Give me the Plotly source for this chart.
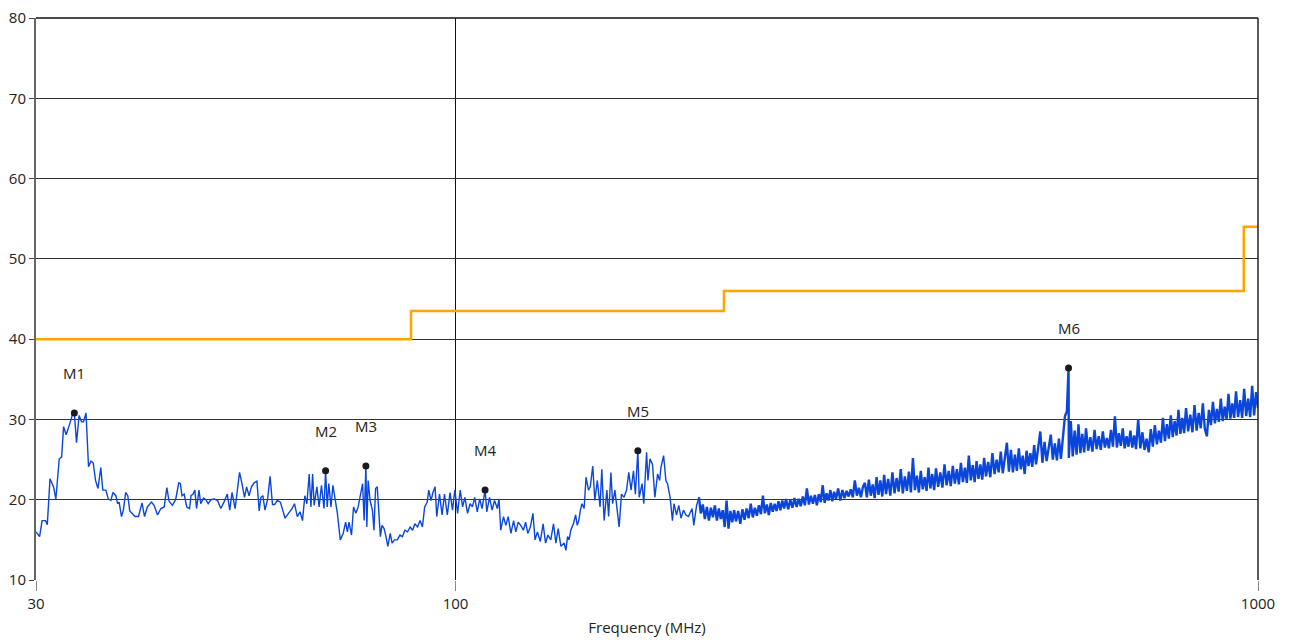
import numpy as np
import plotly.graph_objects as go

freq_a = [
    30.00, 30.31, 30.53, 30.83, 30.99, 31.23, 31.55, 31.76, 32.07, 32.29,
    32.47, 32.71, 32.99, 33.31, 33.49, 33.70, 33.95, 34.19, 34.38, 34.63,
    34.88, 35.13, 35.35, 35.59, 35.84, 36.13, 36.34, 36.66, 36.91, 37.19,
    37.41, 37.73, 37.91, 38.08, 38.34, 38.55, 38.80, 39.04, 39.26, 39.62,
    39.86, 40.25, 40.67, 40.96, 41.29, 41.78, 42.10, 42.52, 42.93, 43.34,
    43.67, 43.95, 44.37, 44.78, 45.19, 45.40, 45.61, 45.89, 46.24, 46.61,
    46.81, 47.09, 47.32, 47.56, 47.89, 48.13, 48.52, 48.85, 49.17, 49.56,
    50.03, 50.51, 50.98, 51.45, 51.94, 52.31, 52.65, 53.12, 53.47, 53.80,
    54.20, 54.57, 54.90, 55.28, 55.68, 56.10, 56.55, 56.92, 57.20, 57.53,
    57.87, 58.30, 58.73, 59.13, 59.50, 59.94, 60.49,
]
level_a = [
    16.0, 15.4, 17.4, 17.4, 16.9, 22.6, 21.6, 20.1, 25.1, 25.3,
    29.1, 28.1, 29.2, 30.6, 30.8, 27.1, 30.5, 29.7, 29.7, 30.8,
    24.1, 24.8, 24.6, 22.4, 21.4, 24.0, 21.2, 21.2, 20.1, 19.9,
    20.9, 20.5, 19.5, 19.7, 17.9, 18.7, 20.9, 20.5, 18.6, 18.2,
    17.9, 17.9, 19.6, 17.9, 19.1, 19.7, 19.3, 18.1, 18.9, 19.1,
    21.5, 19.8, 19.3, 20.0, 22.1, 22.0, 20.5, 20.7, 19.1, 18.9,
    20.5, 20.7, 21.2, 18.9, 21.2, 19.5, 20.2, 20.0, 19.5, 20.0,
    20.1, 19.9, 18.9, 19.7, 20.7, 18.7, 20.9, 18.9, 20.9, 23.4,
    21.9, 20.3, 21.6, 20.5, 21.6, 22.1, 22.3, 18.6, 20.3, 20.5,
    18.7, 20.0, 22.9, 19.4, 19.4, 19.9, 19.7,
]

freq_b = [
    61.31, 61.91, 62.55, 62.99, 63.50, 64.00, 64.45, 64.89, 65.27, 65.70,
    66.03, 66.35, 66.65, 67.17, 67.60, 68.06, 68.55, 68.87, 69.19, 69.50,
    69.95, 70.33, 70.77, 71.24, 71.83, 72.43, 72.94, 73.31, 73.66, 74.18,
    74.62, 75.12, 75.62, 76.06, 76.58, 76.93, 77.31, 77.52, 77.81, 78.25,
    78.77, 79.12, 79.49, 79.87, 80.22, 80.59, 80.96, 81.46, 81.90, 82.33,
    82.91, 83.34, 83.92, 84.60, 85.26, 85.87, 86.45, 87.13, 87.79, 88.40,
    88.98, 89.66, 90.32, 90.93, 91.51, 92.19, 92.59, 93.20, 93.71, 94.29,
    94.74, 95.50, 96.20, 96.87, 97.66, 98.42, 99.12, 99.79, 100.58, 101.34,
    102.04, 102.71, 103.50, 104.26, 104.96, 105.63, 106.42, 107.18, 107.88, 108.84,
    109.37, 110.24, 111.05, 111.82, 112.73, 113.27, 113.84, 114.75, 115.52, 116.30,
    117.21, 118.12, 118.89, 119.67, 120.57, 121.48, 122.26, 123.03, 123.94, 124.85,
    125.62, 126.47, 127.52, 128.56, 129.46, 130.35, 131.40, 132.45, 133.35, 134.24,
    135.29,
]
level_b = [
    17.7, 18.3, 18.9, 19.5, 17.9, 18.5, 17.4, 20.5, 19.5, 23.2,
    19.1, 23.2, 19.3, 21.6, 19.1, 21.8, 18.9, 23.6, 19.1, 22.0,
    19.1, 21.8, 19.9, 18.3, 15.0, 15.8, 17.2, 16.0, 17.2, 15.6,
    19.1, 18.3, 19.1, 20.3, 22.0, 17.4, 24.2, 16.6, 22.4, 19.9,
    18.7, 16.2, 21.4, 21.6, 17.7, 15.4, 16.8, 16.4, 15.4, 14.2,
    15.8, 14.6, 15.0, 15.0, 15.6, 15.4, 16.2, 16.0, 16.6, 16.2,
    17.0, 16.6, 17.4, 16.6, 19.1, 19.7, 21.2, 19.9, 20.9, 21.6,
    17.9, 20.7, 18.1, 20.7, 18.1, 20.9, 18.7, 21.2, 18.3, 21.2,
    19.1, 20.3, 18.3, 19.5, 19.1, 20.3, 18.5, 20.1, 18.9, 21.2,
    18.5, 20.3, 18.7, 19.9, 18.9, 20.1, 16.2, 17.9, 16.8, 17.9,
    15.8, 17.4, 16.0, 17.2, 16.8, 16.2, 17.2, 15.8, 16.6, 18.3,
    15.0, 16.0, 14.8, 17.0, 14.6, 15.6, 15.0, 17.0, 14.6, 16.4,
    14.2,
]

freq_c = [
    136.57, 137.23, 137.89, 138.51, 139.18, 140.23, 141.12, 141.78, 142.41, 143.07,
    143.73, 144.62, 145.40, 146.43, 147.19, 148.23, 149.12, 150.20, 151.37, 152.13,
    153.16, 154.37, 155.14, 156.17, 156.93, 157.96, 158.86, 159.89, 160.97, 162.14,
    163.34, 164.38, 165.46, 166.62, 167.52, 168.19, 168.71, 169.38, 170.78, 171.61,
    173.01, 173.68, 174.72, 175.96, 177.15, 178.55, 179.59, 180.26, 181.66, 182.85,
    183.73, 185.08, 186.32, 187.15, 188.54, 189.74, 190.98, 192.32, 193.72, 195.10,
    197.13, 198.08, 199.70, 201.07,
]
level_c = [
    14.6, 13.7, 15.4, 15.0, 16.2, 17.0, 18.1, 16.8, 17.4, 18.7,
    19.5, 18.9, 22.8, 21.2, 21.6, 24.2, 19.9, 22.4, 19.1, 23.8,
    17.4, 21.2, 17.9, 23.4, 19.5, 21.2, 18.7, 16.6, 20.7, 20.3,
    21.2, 23.4, 21.2, 23.6, 20.7, 23.2, 26.1, 20.3, 22.0, 19.5,
    25.9, 22.4, 25.1, 24.4, 20.3, 23.2, 22.4, 24.0, 25.5, 22.4,
    22.0, 20.3, 17.4, 19.5, 18.1, 19.3, 17.7, 18.7, 18.1, 17.9,
    18.9, 16.8, 19.3, 20.3,
]

freq_d = [
    202.09, 203.29, 204.48, 205.68, 206.87, 208.07, 209.26, 210.46, 211.65, 212.85,
    214.04, 215.24, 216.44, 217.63, 218.83, 220.02, 221.22, 222.41, 223.61, 224.99,
    226.37, 227.75, 229.13, 230.51, 231.89, 233.27, 234.65, 236.03, 237.41, 238.79,
    240.17, 241.55, 242.93, 244.31, 245.69, 247.07, 248.45, 249.83, 251.21, 252.59,
    253.97, 255.35, 256.73, 258.11, 259.70, 261.30, 262.89, 264.48, 266.07, 267.67,
    269.26, 270.85, 272.45, 274.04, 275.63, 277.22, 278.82, 280.41, 282.00, 283.60,
    285.19, 286.78, 288.37, 289.97, 291.56, 293.15, 294.75, 296.34, 297.93, 299.77,
    301.61, 303.45, 305.29, 307.12, 308.96, 310.80, 312.64, 314.48, 316.32, 318.16,
    320.00, 321.84,
]
level_d = [
    18.3, 19.4, 17.6, 19.1, 17.4, 19.0, 17.8, 19.3, 17.4, 18.9,
    17.6, 18.7, 16.6, 19.9, 16.4, 18.6, 17.2, 18.7, 17.3, 18.6,
    17.0, 18.8, 17.5, 18.9, 17.7, 19.5, 17.8, 19.0, 18.0, 19.3,
    18.2, 20.5, 18.3, 19.4, 18.1, 19.6, 18.5, 19.5, 18.6, 19.8,
    18.7, 19.9, 18.9, 20.1, 18.8, 20.0, 19.0, 20.2, 19.1, 20.1,
    19.2, 20.4, 19.3, 21.4, 19.4, 20.5, 19.5, 20.6, 19.3, 20.7,
    19.7, 21.8, 19.6, 20.8, 19.9, 21.2, 19.8, 21.0, 20.1, 21.4,
    19.9, 21.2, 20.2, 21.1, 20.4, 21.3, 20.3, 22.4, 20.5, 21.5,
    20.3, 21.6,
]

freq_e = [
    323.67, 325.51, 327.35, 329.19, 331.03, 332.87, 334.71, 336.55, 338.39, 340.22,
    342.06, 343.90, 346.02, 348.14, 350.27, 352.39, 354.51, 356.63, 358.76, 360.88,
    363.00, 365.12, 367.25, 369.37, 371.49, 373.61, 375.74, 377.86, 379.98, 382.10,
    384.23, 386.35, 388.47, 390.59, 392.72, 394.84, 396.96, 399.41, 401.86, 404.31,
    406.76, 409.21, 411.66, 414.11, 416.56, 419.01, 421.46, 423.90, 426.35, 428.80,
    431.25, 433.70, 436.15, 438.60, 441.05, 443.50, 445.95, 448.40, 450.85, 453.30,
    455.75, 458.20, 461.03, 463.86, 466.68, 469.51, 472.34, 475.17, 478.00, 480.82,
    483.65, 486.48, 489.31, 492.14, 494.96, 497.79, 500.62, 503.45, 506.28, 509.10,
    511.93, 514.76, 517.59, 520.42, 523.24, 526.07, 528.90, 532.16, 535.43, 538.69,
    541.96, 545.22, 548.48, 551.75, 555.01, 558.28, 561.54, 564.80, 568.07, 571.33,
    574.60, 577.86, 580.63,
    581.12, 584.39, 587.65, 590.92, 594.18, 597.44, 600.71, 603.97, 607.24, 610.50,
    614.27, 618.04, 621.80, 625.57, 629.34, 633.11, 636.88, 640.64, 644.41, 648.18,
    651.95, 655.72, 659.48, 663.25, 667.02, 670.79, 674.56, 678.32, 682.09, 685.86,
    689.63, 693.40, 697.16, 700.93, 704.70, 709.05, 713.40, 717.74, 722.09, 726.44,
    730.79, 735.14, 739.48, 743.83, 748.18, 752.53, 756.88, 761.22, 765.57, 769.92,
    774.27, 778.62, 782.96, 787.31, 791.66, 796.01, 800.36, 804.70, 809.05, 813.40,
    818.42, 823.44, 828.46, 833.48, 838.50, 843.52, 848.54, 853.56, 858.58, 863.60,
    868.62, 873.64, 878.66, 883.68, 888.70, 893.72, 898.74, 903.76, 908.78, 913.80,
    918.82, 923.84, 928.86, 933.88, 938.90, 944.45, 950.01, 955.56, 961.12, 966.67,
    972.22, 977.78, 983.33, 988.89, 994.44, 1000.00,
]
level_e = [
    22.1, 20.3, 22.5, 20.5, 21.9, 20.2, 22.8, 20.6, 22.4, 20.4,
    23.1, 20.7, 22.6, 20.5, 23.4, 20.8, 22.7, 21.0, 23.8, 20.8,
    22.9, 21.1, 23.5, 20.9, 25.2, 21.2, 23.0, 20.9, 23.6, 21.3,
    22.8, 21.1, 24.0, 21.4, 23.2, 21.2, 23.9, 21.6, 23.4, 21.5,
    24.4, 21.8, 23.6, 21.7, 24.2, 22.0, 23.8, 21.9, 24.6, 22.2,
    24.0, 22.1, 25.5, 22.4, 24.3, 22.2, 24.8, 22.6, 24.4, 22.5,
    25.2, 22.9, 24.7, 22.8, 25.8, 23.2, 25.0, 23.4, 26.0, 23.3,
    25.4, 27.1, 23.5, 26.2, 23.4, 25.6, 23.6, 26.4, 23.8, 25.5,
    23.2, 26.1, 24.2, 25.8, 24.1, 26.8, 24.4, 26.2, 28.5, 24.6,
    27.2, 24.8, 26.6, 28.1, 25.0, 27.0, 24.9, 27.6, 25.1, 27.4,
    30.4, 31.0, 36.4,
    25.2, 29.8, 25.4, 28.6, 25.6, 29.4, 25.8, 28.2, 25.9, 28.9,
    26.1, 27.8, 26.0, 28.7, 26.3, 27.9, 26.2, 28.5, 26.5, 27.7,
    26.4, 28.7, 26.6, 30.4, 26.5, 28.3, 26.7, 28.9, 26.4, 27.9,
    26.6, 28.6, 26.5, 28.0, 26.3, 30.0, 26.4, 28.4, 26.2, 27.6,
    25.9, 28.8, 26.6, 29.3, 26.9, 28.6, 27.1, 30.2, 27.3, 29.4,
    27.6, 30.5, 27.8, 29.8, 28.0, 31.2, 28.2, 30.2, 28.3, 31.4,
    28.5, 30.6, 28.4, 31.8, 28.6, 30.8, 28.9, 32.0, 28.8, 27.9,
    31.2, 29.3, 32.2, 29.5, 31.3, 29.7, 32.6, 29.8, 31.6, 30.0,
    33.2, 30.1, 32.0, 30.2, 33.5, 30.3, 32.4, 30.2, 33.8, 30.4,
    32.6, 30.3, 34.2, 30.5, 33.4, 31.4,
]

# low band (sparser sweep) and dense band (share the joining sample)
freq_low = freq_a + freq_b + freq_c
level_low = level_a + level_b + level_c
freq_dense = freq_c[-1:] + freq_d + freq_e
level_dense = level_c[-1:] + level_d + level_e

# ---- limit line (step) ----
limit_freq = [30, 88, 216, 960, 1000]
limit_level = [40, 43.5, 46, 54, 54]

# ---- markers ----
marker_names = ["M1", "M2", "M3", "M4", "M5", "M6"]
marker_freq = [33.49, 68.87, 77.31, 108.84, 168.71, 580.63]
marker_level = [30.8, 23.6, 24.2, 21.2, 26.1, 36.4]

# ---- axes ----
y_ticks = [10, 20, 30, 40, 50, 60, 70, 80]
x_ticks = [30, 100, 1000]
x_ticktext = ["30", "100", "1000"]

FONT = "Open Sans"
BLUE = "#0A46DC"

fig = go.Figure()

fig.add_trace(go.Scatter(
    x=limit_freq, y=limit_level, mode="lines", line_shape="hv",
    line=dict(color="#FFA500", width=2.5), hoverinfo="skip", showlegend=False,
))

fig.add_trace(go.Scatter(
    x=freq_low, y=level_low, mode="lines",
    line=dict(color=BLUE, width=1.4), showlegend=False,
))
fig.add_trace(go.Scatter(
    x=freq_dense, y=level_dense, mode="lines",
    line=dict(color=BLUE, width=2.4), showlegend=False,
))

fig.add_trace(go.Scatter(
    x=marker_freq, y=marker_level, mode="markers",
    marker=dict(color="#1a1a1a", size=7), showlegend=False,
))

for name, f, v in zip(marker_names, marker_freq, marker_level):
    fig.add_annotation(
        x=np.log10(f), y=v, text=name, showarrow=False,
        xanchor="center", yanchor="middle", yshift=40,
        font=dict(family=FONT, size=15, color="#222222"),
    )

# top and right borders
fig.add_shape(type="line", xref="paper", yref="paper", x0=0, x1=1, y0=1, y1=1,
              line=dict(color="#111111", width=1.5))
fig.add_shape(type="line", xref="paper", yref="paper", x0=1, x1=1, y0=0, y1=1,
              line=dict(color="#222222", width=1.5))

fig.update_layout(
    width=1281, height=636,
    margin=dict(l=28, r=31, t=10, b=64),
    paper_bgcolor="white", plot_bgcolor="white",
    font=dict(family=FONT, size=15, color="#222222"),
    xaxis=dict(
        type="log", range=[np.log10(30), 3],
        tickvals=x_ticks, ticktext=x_ticktext,
        showgrid=True, gridcolor="#111111", gridwidth=1,
        showline=False, zeroline=False, automargin=False,
        ticks="outside", ticklen=10, tickcolor="#888888",
        tickfont=dict(family=FONT, size=15, color="#222222"),
        title=dict(text="Frequency (MHz)", font=dict(family=FONT, size=15, color="#222222"), standoff=10),
    ),
    yaxis=dict(
        range=[10, 80], tickvals=y_ticks,
        showgrid=True, gridcolor="#333333", gridwidth=1,
        showline=True, linecolor="#666666", linewidth=2,
        zeroline=False, automargin=False, ticklabeloverflow="allow",
        ticks="outside", ticklen=5, tickcolor="#444444",
        tickfont=dict(family=FONT, size=15, color="#222222"),
    ),
)

fig.write_html("out.html")
